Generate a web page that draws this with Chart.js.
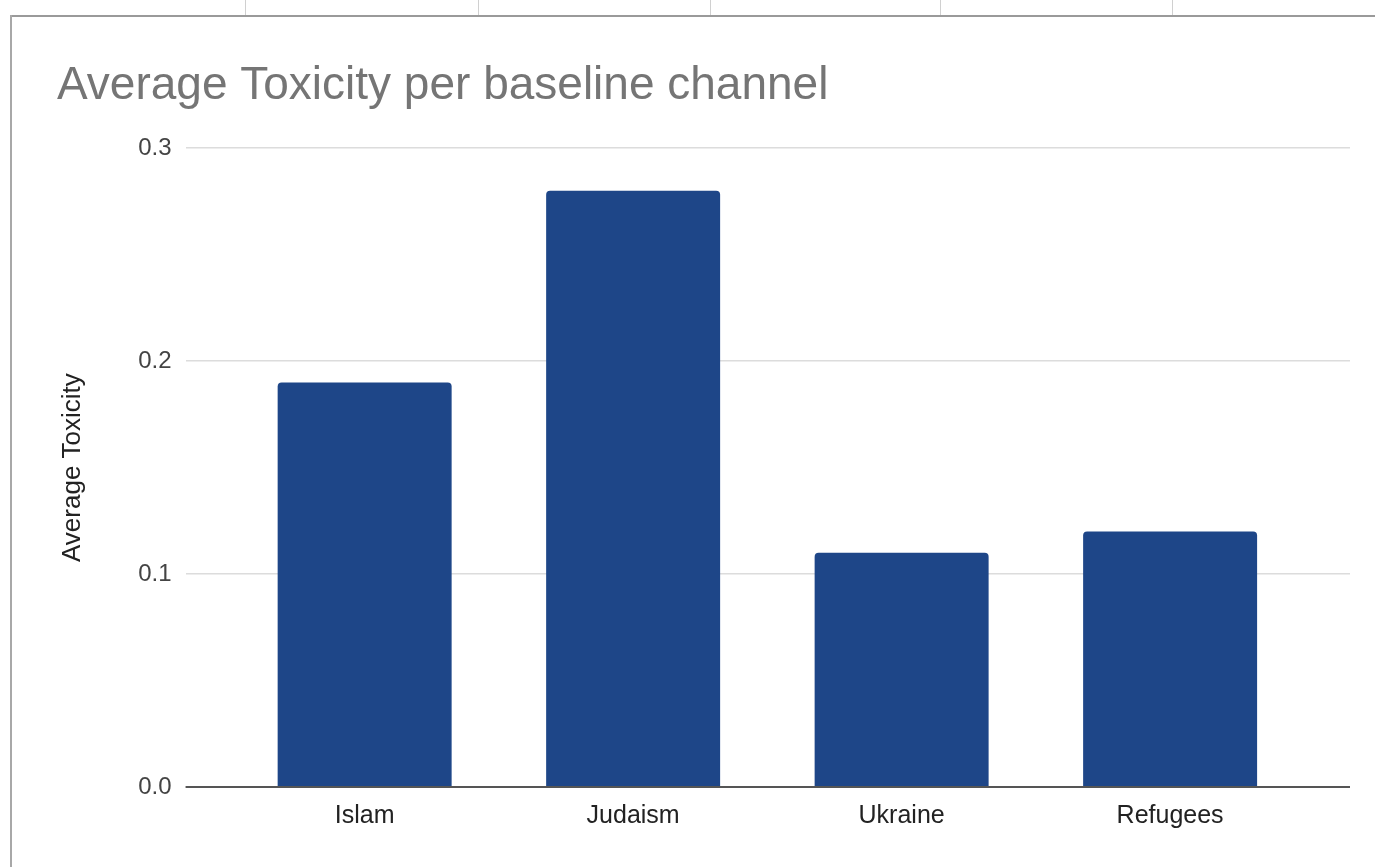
<!DOCTYPE html>
<html>
<head>
<meta charset="utf-8">
<script src="https://cdn.jsdelivr.net/npm/chart.js@4"></script>
<style>
  html, body { margin: 0; padding: 0; background: #fff; }
  body { width: 1375px; height: 867px; position: relative; overflow: hidden; }
  .sheet-top { position: absolute; left: 0; top: 0; width: 1375px; height: 15px; }
  .vline { position: absolute; top: 0; width: 1px; height: 15px; background: #d0d0d0; }
  .hborder { position: absolute; left: 10px; top: 15px; width: 1365px; height: 2px; background: #9a9a9a; }
  .lborder { position: absolute; left: 10px; top: 15px; width: 2px; height: 852px; background: #a8a8a8; }
  #wrap { position: absolute; left: 0; top: 0; width: 1375px; height: 867px; }
</style>
</head>
<body>
<div class="sheet-top">
  <div class="vline" style="left:245px"></div>
  <div class="vline" style="left:478px"></div>
  <div class="vline" style="left:710px"></div>
  <div class="vline" style="left:940px"></div>
  <div class="vline" style="left:1172px"></div>
</div>
<div class="hborder"></div>
<div class="lborder"></div>
<div id="wrap"><canvas id="c" width="1375" height="867"></canvas></div>
<script>
const categories = ["Islam", "Judaism", "Ukraine", "Refugees"];
const toxicity = [0.19, 0.28, 0.11, 0.12];
const yTicks = [0, 0.1, 0.2, 0.3];

const FONT = "'Liberation Sans', Arial, sans-serif";

const ctx = document.getElementById('c').getContext('2d');
new Chart(ctx, {
  type: 'bar',
  data: {
    datasets: [{
      label: 'Average Toxicity',
      data: categories.map((c, i) => ({ x: i, y: toxicity[i] })),
      backgroundColor: '#1e4688',
      borderRadius: { topLeft: 4, topRight: 4, bottomLeft: 0, bottomRight: 0 },
      borderSkipped: 'bottom',
      categoryPercentage: 1.0,
      barPercentage: 0.648
    }]
  },
  options: {
    responsive: false,
    animation: false,
    layout: { padding: { left: 57, right: 25, top: 0, bottom: 30 } },
    plugins: {
      legend: { display: false },
      tooltip: { enabled: false },
      title: {
        display: true,
        text: 'Average Toxicity per baseline channel',
        align: 'start',
        color: '#757575',
        font: { family: FONT, size: 46, weight: 'normal' },
        padding: { top: 59, bottom: 34 }
      }
    },
    scales: {
      x: {
        type: 'linear',
        min: -0.667,
        max: 3.67,
        offset: false,
        grid: { display: false },
        border: { display: false },
        afterBuildTicks: (axis) => { axis.ticks = categories.map((c, i) => ({ value: i })); },
        ticks: {
          color: '#222',
          font: { family: FONT, size: 25 },
          padding: 6,
          callback: (v) => categories[v] !== undefined ? categories[v] : ''
        }
      },
      y: {
        min: 0,
        max: 0.3,
        afterBuildTicks: (axis) => { axis.ticks = yTicks.map(v => ({ value: v })); },
        border: { display: false },
        grid: {
          drawTicks: false,
          color: (c) => c.tick && c.tick.value === 0 ? '#555' : '#dcdcdc',
          lineWidth: (c) => c.tick && c.tick.value === 0 ? 2 : 1.5
        },
        ticks: {
          color: '#444',
          font: { family: FONT, size: 24 },
          padding: 14,
          callback: (v) => Number(v).toFixed(1)
        },
        title: {
          display: true,
          text: 'Average Toxicity',
          color: '#222',
          font: { family: FONT, size: 26 },
          padding: { top: 0, bottom: 36 }
        }
      }
    }
  },
  plugins: [{
    id: 'zeroOnTop',
    afterDatasetsDraw(chart) {
      const y = chart.scales.y.getPixelForValue(0);
      const a = chart.chartArea;
      const c = chart.ctx;
      c.save();
      c.strokeStyle = '#555';
      c.lineWidth = 2;
      c.beginPath();
      c.moveTo(a.left, y);
      c.lineTo(a.right, y);
      c.stroke();
      c.restore();
    }
  }]
});
</script>
</body>
</html>
